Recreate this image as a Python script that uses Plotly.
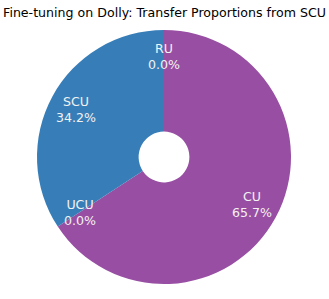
import math
import plotly.graph_objects as go

categories = ["RU", "CU", "UCU", "SCU"]
values = [0.0, 65.7, 0.0, 34.2]
colors = ["#e41a1c", "#984ea3", "#4daf4a", "#377eb8"]
title = "Fine-tuning on Dolly: Transfer Proportions from SCU"

W, H = 329, 299
cx, cy_top, R = 164, 157, 127
cy = H - cy_top

fig = go.Figure(go.Pie(
    labels=categories, values=values, sort=False, direction="clockwise",
    rotation=0, hole=0.2, marker=dict(colors=colors, line=dict(width=0)),
    textinfo="none", hoverinfo="label+percent", showlegend=False,
    domain=dict(x=[(cx - R) / W, (cx + R) / W], y=[(cy - R) / H, (cy + R) / H]),
))

total = sum(values)
cum = 0.0
ann = []
for lab, v in zip(categories, values):
    mid = (cum + v / 2) / total
    cum += v
    ang = 2 * math.pi * mid
    r = 0.79 * R
    x = (cx + r * math.sin(ang)) / W
    y = (cy + r * math.cos(ang)) / H
    ann.append(dict(x=x, y=y, xref="paper", yref="paper", showarrow=False,
                    text=f"{lab}<br>{v:.1f}%",
                    font=dict(family="DejaVu Sans", size=12.6, color="#f2f2f2"),
                    xanchor="center", yanchor="middle", align="center"))

fig.update_layout(
    width=W, height=H, margin=dict(l=0, r=0, t=0, b=0),
    paper_bgcolor="white", plot_bgcolor="white",
    title=dict(text=title, x=0.5, xanchor="center", y=1 - 13 / H, yanchor="middle",
               yref="container", font=dict(family="DejaVu Sans", size=12.6, color="black")),
    annotations=ann,
)
fig.write_html("out.html", config={"displayModeBar": False},
               post_script="document.body.style.margin='0';")
